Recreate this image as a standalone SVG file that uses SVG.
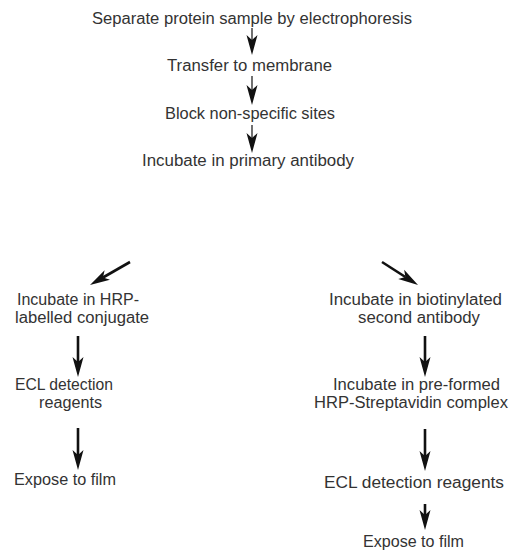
<svg xmlns="http://www.w3.org/2000/svg" width="512" height="555" viewBox="0 0 512 555">
<defs>
<style>
text{font-family:"Liberation Sans",Arial,sans-serif;font-size:16px;fill:#333;}
.thin{stroke:#111;stroke-width:1.2;fill:none;}
.thick{stroke:#111;stroke-width:2.6;fill:none;}
</style>
<marker id="ah" markerUnits="userSpaceOnUse" viewBox="0 -6 21 12" refX="5" refY="0" markerWidth="21" markerHeight="12" orient="auto">
<path d="M0,-5.5 L20,0 L0,5.5 L5,0 Z" fill="#111"/>
</marker>
</defs>
<rect width="512" height="555" fill="#fff"/>
<g id="connectors">
<line class="thin" x1="252" y1="28" x2="252" y2="40" marker-end="url(#ah)"/>
<line class="thin" x1="252" y1="76" x2="252" y2="90" marker-end="url(#ah)"/>
<line class="thin" x1="252" y1="125" x2="252" y2="138" marker-end="url(#ah)"/>
<line class="thick" x1="130" y1="262" x2="103" y2="277.5" marker-end="url(#ah)"/>
<line class="thick" x1="382" y1="262" x2="405.4" y2="277" marker-end="url(#ah)"/>
<line class="thick" x1="78" y1="336" x2="78" y2="362" marker-end="url(#ah)"/>
<line class="thick" x1="78" y1="428" x2="78" y2="455" marker-end="url(#ah)"/>
<line class="thick" x1="425" y1="336" x2="425" y2="362" marker-end="url(#ah)"/>
<line class="thick" x1="425" y1="429" x2="425" y2="456" marker-end="url(#ah)"/>
<line class="thick" x1="425" y1="504" x2="425" y2="515" marker-end="url(#ah)"/>
</g>
<g id="n1"><text x="92" y="24" textLength="320" lengthAdjust="spacingAndGlyphs">Separate protein sample by electrophoresis</text></g>
<g id="n2"><text x="167" y="71" textLength="165" lengthAdjust="spacingAndGlyphs">Transfer to membrane</text></g>
<g id="n3"><text x="165" y="119" textLength="170" lengthAdjust="spacingAndGlyphs">Block non-specific sites</text></g>
<g id="n4"><text x="142" y="166" textLength="212" lengthAdjust="spacingAndGlyphs">Incubate in primary antibody</text></g>
<g id="n5">
<text x="17" y="305" textLength="122" lengthAdjust="spacingAndGlyphs">Incubate in HRP-</text>
<text x="15" y="323" textLength="134" lengthAdjust="spacingAndGlyphs">labelled conjugate</text>
</g>
<g id="n6">
<text x="15" y="390" textLength="98" lengthAdjust="spacingAndGlyphs">ECL detection</text>
<text x="39" y="408" textLength="63" lengthAdjust="spacingAndGlyphs">reagents</text>
</g>
<g id="n7"><text x="14" y="485" textLength="102" lengthAdjust="spacingAndGlyphs">Expose to film</text></g>
<g id="n8">
<text x="329" y="305" textLength="173" lengthAdjust="spacingAndGlyphs">Incubate in biotinylated</text>
<text x="358" y="323" textLength="122" lengthAdjust="spacingAndGlyphs">second antibody</text>
</g>
<g id="n9">
<text x="333" y="390" textLength="167" lengthAdjust="spacingAndGlyphs">Incubate in pre-formed</text>
<text x="314" y="408" textLength="194" lengthAdjust="spacingAndGlyphs">HRP-Streptavidin complex</text>
</g>
<g id="n10"><text x="324" y="488" textLength="180" lengthAdjust="spacingAndGlyphs">ECL detection reagents</text></g>
<g id="n11"><text x="363" y="547" textLength="101" lengthAdjust="spacingAndGlyphs">Expose to film</text></g>
</svg>
